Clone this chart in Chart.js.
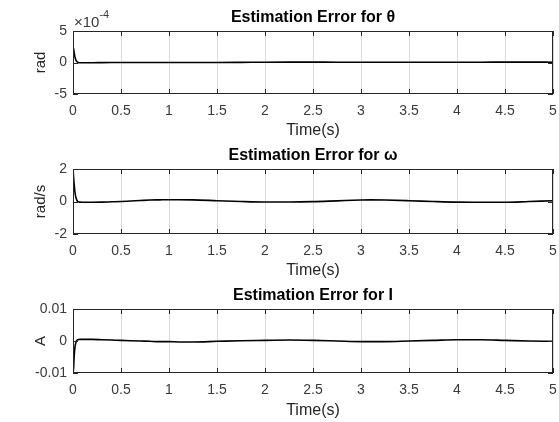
<!DOCTYPE html>
<html><head><meta charset="utf-8">
<script src="https://cdn.jsdelivr.net/npm/chart.js@4/dist/chart.umd.min.js"></script>
<style>
html,body{margin:0;padding:0;background:#fff;}
#wrap{position:relative;width:559px;height:422px;overflow:hidden;}
canvas{position:absolute;left:0;}
</style></head><body>
<div id="wrap">
<canvas id="c1" width="559" height="140" style="top:0px"></canvas>
<canvas id="c2" width="559" height="140" style="top:140px"></canvas>
<canvas id="c3" width="559" height="142" style="top:280px"></canvas>
</div>
<script>
// ---- data ----
const timeS = [0, 0.005, 0.01, 0.02, 0.03, 0.04, 0.05, 0.07, 0.1, 0.15, 0.2, 0.3, 0.4, 0.5, 0.6, 0.7, 0.8, 0.9, 1.0, 1.1, 1.25, 1.5, 1.75, 2.0, 2.25, 2.5, 2.75, 3.0, 3.1, 3.25, 3.5, 3.75, 4.0, 4.25, 4.5, 4.75, 5.0];
const thetaErr = [0, 2.3e-4, 1.8e-4, 0.9e-4, 0.4e-4, 0.15e-4, 0.05e-4, -0.05e-4, -0.05e-4, -0.04e-4, -0.03e-4, -0.02e-4, -0.01e-4, 0, 0, 0, 0, 0, 0, 0, 0, 0, 0.02e-4, 0.05e-4, 0.06e-4, 0.06e-4, 0.05e-4, 0.05e-4, 0.05e-4, 0.04e-4, 0.04e-4, 0.05e-4, 0.05e-4, 0.05e-4, 0.06e-4, 0.06e-4, 0.05e-4];
const omegaErr = [2.0, 1.6, 1.2, 0.6, 0.25, 0.08, 0.0, -0.04, -0.05, -0.05, -0.05, -0.04, -0.02, 0.0, 0.03, 0.06, 0.09, 0.1, 0.11, 0.11, 0.1, 0.05, 0.0, -0.03, -0.03, -0.01, 0.04, 0.09, 0.1, 0.09, 0.05, 0.0, -0.04, -0.05, -0.05, 0.0, 0.05];
const currentErr = [0, -0.0095, -0.006, -0.002, -0.0005, 0.0002, 0.0004, 0.0005, 0.0005, 0.0005, 0.0005, 0.0004, 0.0003, 0.0002, 0.0001, 0.0, -0.0001, -0.0002, -0.0002, -0.0003, -0.0003, -0.0001, 0.0001, 0.0002, 0.0003, 0.0002, 0.0, -0.0002, -0.0002, -0.0002, 0.0, 0.0002, 0.0004, 0.0004, 0.0002, 0.0, -0.0001];
const xTickLabels = ['0', '0.5', '1', '1.5', '2', '2.5', '3', '3.5', '4', '4.5', '5'];
const thetaTicks = ['-5', '0', '5'];
const omegaTicks = ['-2', '0', '2'];
const currentTicks = ['-0.01', '0', '0.01'];
const titles = ['Estimation Error for \u03B8', 'Estimation Error for \u03C9', 'Estimation Error for I'];
const yTitles = ['rad', 'rad/s', 'A'];
const xTitle = 'Time(s)';

const FONT = '"Liberation Sans", Arial, sans-serif';

const framePlugin = {
  id: 'frame',
  afterDatasetsDraw(chart, args, o) {
    const {ctx, chartArea: a, scales: {x, y}} = chart;
    ctx.save();
    ctx.strokeStyle = '#262626';
    ctx.lineWidth = 1;
    ctx.beginPath();
    x.ticks.forEach(t => {
      const px = Math.round(x.getPixelForValue(t.value)) + 0.5;
      ctx.moveTo(px, a.bottom); ctx.lineTo(px, a.bottom - 5);
      ctx.moveTo(px, a.top); ctx.lineTo(px, a.top + 5);
    });
    y.ticks.forEach(t => {
      const py = Math.round(y.getPixelForValue(t.value)) + 0.5;
      ctx.moveTo(a.left, py); ctx.lineTo(a.left + 5, py);
      ctx.moveTo(a.right, py); ctx.lineTo(a.right - 5, py);
    });
    ctx.stroke();
    ctx.strokeRect(Math.round(a.left) + 0.5, Math.round(a.top) + 0.5,
      Math.round(a.right - a.left) - 1, Math.round(a.bottom - a.top) - 1);
    if (o.exponent) {
      ctx.fillStyle = '#3a3a3a';
      ctx.font = '15px ' + FONT;
      ctx.textBaseline = 'alphabetic';
      ctx.textAlign = 'left';
      ctx.fillText('\u00D710', a.left + 1, a.top - 4);
      const w = ctx.measureText('\u00D710').width;
      ctx.font = '11px ' + FONT;
      ctx.fillText(o.exponent, a.left + 1 + w, a.top - 13);
    }
    ctx.restore();
  }
};

function makePanel(id, values, idx, opt) {
  const pts = timeS.map((t, i) => ({x: t, y: values[i]}));
  return new Chart(document.getElementById(id), {
    type: 'line',
    data: {datasets: [{data: pts, borderColor: '#000', borderWidth: 1.6, pointRadius: 0,
      cubicInterpolationMode: 'monotone', fill: false}]},
    plugins: [framePlugin],
    options: {
      responsive: false,
      animation: false,
      layout: {padding: {left: 0, right: 6, top: 0, bottom: 0}},
      plugins: {
        legend: {display: false},
        tooltip: {enabled: false},
        title: {display: true, text: titles[idx], fullSize: false, color: '#000',
          font: {family: FONT, size: 16, weight: 'bold'},
          padding: {top: opt.titleTop, bottom: opt.titleBottom}},
        frame: {exponent: opt.exponent || null}
      },
      scales: {
        x: {
          type: 'linear', min: 0, max: 5,
          afterFit: s => { s.height = opt.xHeight; s.paddingRight = 0; s.paddingLeft = 0; },
          ticks: {stepSize: 0.5, color: '#3a3a3a', font: {family: FONT, size: 14}, padding: 9,
            maxRotation: 0, autoSkip: false,
            callback: (v) => { const k = Math.round(v * 2); return xTickLabels[k]; }},
          grid: {display: true, color: '#d9d9d9', lineWidth: 1, drawTicks: false},
          border: {display: false},
          title: {display: true, text: xTitle, color: '#262626', font: {family: FONT, size: 16, lineHeight: 1},
            padding: {top: 2, bottom: opt.xTitleBottom}}
        },
        y: {
          type: 'linear', min: opt.min, max: opt.max,
          afterFit: s => { s.width = 73; },
          ticks: {stepSize: opt.step, color: '#3a3a3a', font: {family: FONT, size: 14}, padding: 6,
            callback: (v) => { const k = Math.round((v - opt.min) / opt.step); return opt.labels[k]; }},
          grid: {display: false, drawTicks: false},
          border: {display: false},
          title: {display: true, text: yTitles[idx], color: '#262626', font: {family: FONT, size: 15},
            padding: {top: 32, bottom: 0}}
        }
      }
    }
  });
}

makePanel('c1', thetaErr, 0, {min: -5e-4, max: 5e-4, step: 5e-4, labels: thetaTicks,
  titleTop: 7.9, titleBottom: 3.9, xHeight: 46, xTitleBottom: 1, exponent: '-4'});
makePanel('c2', omegaErr, 1, {min: -2, max: 2, step: 2, labels: omegaTicks,
  titleTop: 5.9, titleBottom: 3.9, xHeight: 46, xTitleBottom: 1});
makePanel('c3', currentErr, 2, {min: -0.01, max: 0.01, step: 0.01, labels: currentTicks,
  titleTop: 5.9, titleBottom: 3.9, xHeight: 49, xTitleBottom: 3});
</script>
</body></html>
